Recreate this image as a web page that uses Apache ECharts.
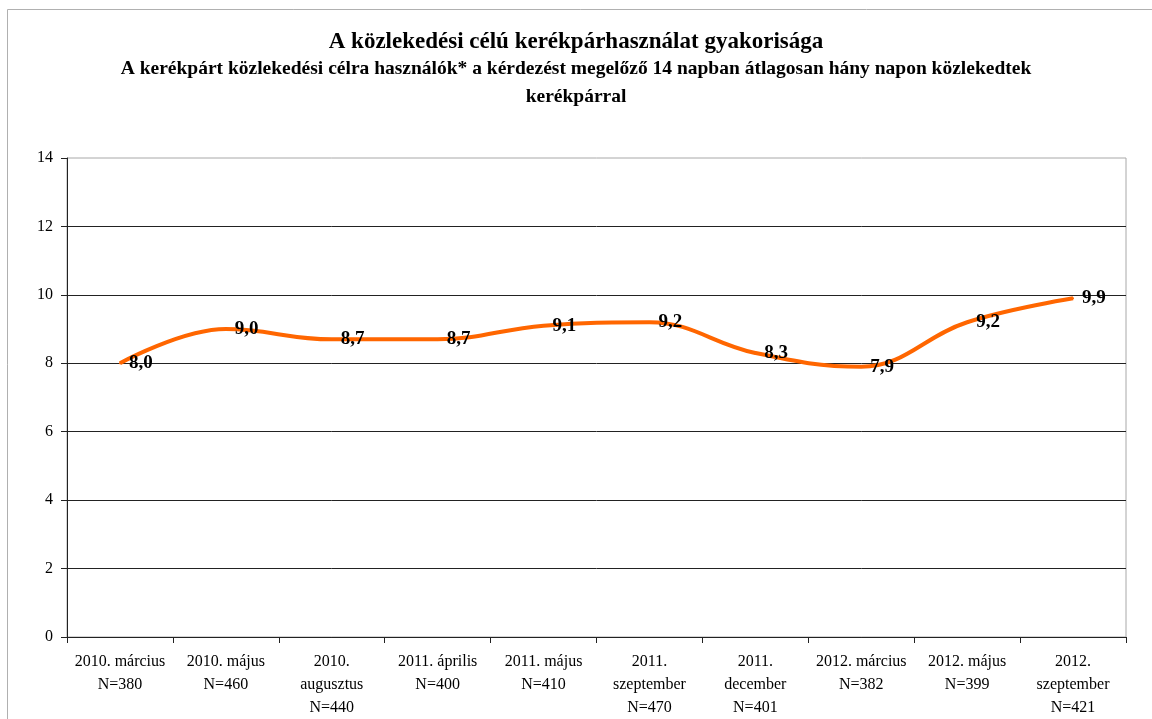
<!DOCTYPE html>
<html><head><meta charset="utf-8">
<script src="https://cdn.jsdelivr.net/npm/echarts@6/dist/echarts.min.js"></script>
<style>html,body{margin:0;padding:0;background:#fff}#c{width:1152px;height:719px}</style>
</head><body><div id="c"></div>
<script>
const titleText = "A közlekedési célú kerékpárhasználat gyakorisága";
const subtitleText = "A kerékpárt közlekedési célra használók* a kérdezést megelőző 14 napban átlagosan hány napon közlekedtek\nkerékpárral";
const categories = [
  "2010. március\nN=380",
  "2010. május\nN=460",
  "2010.\naugusztus\nN=440",
  "2011. április\nN=400",
  "2011. május\nN=410",
  "2011.\nszeptember\nN=470",
  "2011.\ndecember\nN=401",
  "2012. március\nN=382",
  "2012. május\nN=399",
  "2012.\nszeptember\nN=421"
];
const values = [8.0, 9.0, 8.7, 8.7, 9.1, 9.2, 8.3, 7.9, 9.2, 9.9];
const yMin = 0, yMax = 14, yStep = 2;

const serif = '"Liberation Serif", "DejaVu Serif", serif';
const chart = echarts.init(document.getElementById('c'));
chart.setOption({
  backgroundColor: '#fff',
  animation: false,
  graphic: [{
    type: 'rect', shape: {x: 7.5, y: 9.5, width: 1200, height: 800},
    style: {fill: 'none', stroke: '#b0b0b0', lineWidth: 1}, silent: true, z: -1
  }],
  title: [{
    text: titleText, left: 'center', top: 26,
    textStyle: {fontFamily: serif, fontSize: 23, fontWeight: 'bold', color: '#000'}
  }, {
    text: subtitleText, left: 'center', top: 50,
    textStyle: {fontFamily: serif, fontSize: 19.5, fontWeight: 'bold', color: '#000', lineHeight: 28, align: 'center'}
  }],
  grid: {left: 67, right: 26, top: 158, bottom: 81, containLabel: false,
         show: true, borderColor: '#a8a8a8', borderWidth: 1, backgroundColor: 'transparent'},
  xAxis: {
    type: 'category', data: categories, boundaryGap: true,
    axisLine: {lineStyle: {color: '#222', width: 1}},
    axisTick: {show: true, alignWithLabel: false, length: 6, lineStyle: {color: '#222'}},
    axisLabel: {fontFamily: serif, fontSize: 16, color: '#000', lineHeight: 23, margin: 13, interval: 0}
  },
  yAxis: {
    type: 'value', min: yMin, max: yMax, interval: yStep,
    axisLine: {show: true, lineStyle: {color: '#222', width: 1}},
    axisTick: {show: true, length: 6, lineStyle: {color: '#222'}},
    splitLine: {showMaxLine: false, lineStyle: {color: '#222', width: 1}},
    axisLabel: {fontFamily: serif, fontSize: 16, color: '#000', margin: 14}
  },
  series: [{
    type: 'line', data: values, smooth: 0.4, showSymbol: true, symbol: 'circle', symbolSize: 2,
    lineStyle: {color: '#FF6600', width: 4},
    itemStyle: {color: '#FF6600'},
    label: {
      show: true, position: 'right', distance: 8,
      fontFamily: serif, fontSize: 19, fontWeight: 'bold', color: '#000',
      formatter: function (p) { return Number(p.value).toFixed(1).replace('.', ','); }
    }
  }]
});
</script></body></html>
